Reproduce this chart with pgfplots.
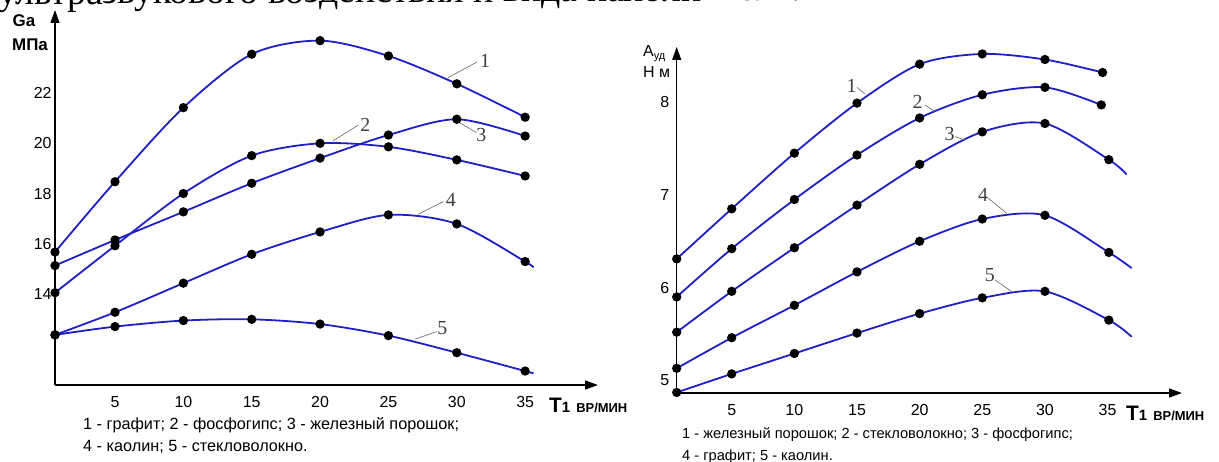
\documentclass[border=0pt]{standalone}
\usepackage{fontspec}
\setmainfont{Liberation Sans}
\newfontfamily\serif{Liberation Serif}
\usepackage{pgfplots}
\pgfplotsset{compat=1.18}
\usetikzlibrary{arrows.meta}
\definecolor{curveblue}{HTML}{1F1FC4}

\pgfplotsset{
  panel/.style={
    scale only axis, clip=false, anchor=south west,
    axis x line=bottom, axis y line=left,
    axis line style={line width=1.4bp,-{Triangle[length=13bp,width=9bp]}},
    major tick length=0pt,
    xtick={5,10,15,20,25,30,35},
    tick label style={font=\fontsize{16}{19}\selectfont},
    xticklabel style={yshift=-8bp},
    /pgf/number format/assume math mode=true},
  curve/.style={curveblue,line width=1.8bp,smooth,mark=*,mark size=3.7bp,
    mark options={black,fill=black}},
}
\tikzset{
  leader/.style={black!55,line width=0.7bp},
  num/.style={black!75,inner sep=0pt,font=\serif\fontsize{20}{22}\selectfont},
}

\begin{document}
\begin{tikzpicture}
\useasboundingbox (0,0) rectangle (1219bp,462bp);

% text line of the page, cut by the top edge
\node[anchor=base west,inner sep=0pt,rotate=0.29,
  font=\serif\fontsize{38}{44}\selectfont]
  at (-2bp,457.5bp) {ультразвукового воздействия и вида наполнителя.};

% left panel: Ga, MPa
\begin{axis}[panel, at={(55bp,77bp)}, width=543bp, height=375bp,
  xmin=0.61, xmax=40.33, ymin=10.374, ymax=25.31, ytick={14,16,18,20,22}]
  % 1 - graphite
  \addplot[curve] coordinates {(0.61,15.67) (5,18.47) (10,21.42) (15,23.55)
    (20,24.09) (25,23.48) (30,22.37) (35,21.04)};
  % 2 - phosphogypsum
  \addplot[curve] coordinates {(0.61,14.05) (5,15.92) (10,18.00) (15,19.51)
    (20,20.00) (25,19.86) (30,19.34) (35,18.70)};
  % 3 - iron powder
  \addplot[curve] coordinates {(0.61,15.13) (5,16.15) (10,17.27) (15,18.41)
    (20,19.41) (25,20.33) (30,20.96) (35,20.29)};
  % 4 - kaolin
  \addplot[curve,mark indices={1,2,3,4,5,6,7,8}] coordinates {(0.61,12.37)
    (5,13.27) (10,14.43) (15,15.58) (20,16.47) (25,17.15) (30,16.79)
    (35,15.29) (35.58,15.05)};
  % 5 - glass fibre
  \addplot[curve,mark indices={1,2,3,4,5,6,7,8}] coordinates {(0.61,12.37)
    (5,12.70) (10,12.94) (15,12.99) (20,12.80) (25,12.34) (30,11.66)
    (35,10.93) (35.58,10.84)};

  \draw[leader] (axis cs:29.36,22.61) -- (axis cs:31.48,23.24);
  \node[num] at (axis cs:32.07,23.30) {1};
  \draw[leader] (axis cs:20.95,20.10) -- (axis cs:22.78,20.72);
  \node[num] at (axis cs:23.31,20.75) {2};
  \draw[leader] (axis cs:30.09,20.85) -- (axis cs:31.45,20.43);
  \node[num] at (axis cs:31.80,20.33) {3};
  \draw[leader] (axis cs:27.19,17.18) -- (axis cs:29.02,17.68);
  \node[num] at (axis cs:29.56,17.75) {4};
  \draw[leader] (axis cs:26.95,12.20) -- (axis cs:28.53,12.50);
  \node[num] at (axis cs:28.94,12.63) {5};
\end{axis}

% right panel: specific work, N m
\begin{axis}[panel, at={(676.7bp,69bp)}, width=505.3bp, height=346bp,
  xmin=0.61, xmax=40.94, ymin=4.864, ymax=8.595, ytick={5,6,7,8},
  yticklabel style={xshift=-4bp}]
  % 1 - iron powder
  \addplot[curve] coordinates {(0.61,6.31) (5,6.85) (10,7.45) (15,7.99)
    (20,8.41) (25,8.52) (30,8.46) (34.6,8.32)};
  % 2 - glass fibre
  \addplot[curve] coordinates {(0.61,5.90) (5,6.42) (10,6.95) (15,7.43)
    (20,7.83) (25,8.08) (30,8.16) (34.5,7.97)};
  % 3 - phosphogypsum
  \addplot[curve,mark indices={1,2,3,4,5,6,7,8}] coordinates {(0.61,5.52)
    (5,5.96) (10,6.43) (15,6.89) (20,7.33) (25,7.68) (30,7.77)
    (35.1,7.38) (36.52,7.22)};
  % 4 - graphite
  \addplot[curve,mark indices={1,2,3,4,5,6,7,8}] coordinates {(0.61,5.13)
    (5,5.46) (10,5.81) (15,6.17) (20,6.50) (25,6.74) (30,6.78)
    (35.1,6.38) (36.92,6.21)};
  % 5 - kaolin
  \addplot[curve,mark indices={1,2,3,4,5,6,7,8}] coordinates {(0.61,4.87)
    (5,5.07) (10,5.29) (15,5.51) (20,5.72) (25,5.89) (30,5.96)
    (35.1,5.65) (36.92,5.47)};

  \draw[leader] (axis cs:15.64,8.088) -- (axis cs:15.00,8.16);
  \node[num] at (axis cs:14.57,8.18) {1};
  \draw[leader] (axis cs:21.23,7.897) -- (axis cs:20.43,7.97);
  \node[num] at (axis cs:19.83,8.005) {2};
  \draw[leader] (axis cs:23.62,7.592) -- (axis cs:22.82,7.628);
  \node[num] at (axis cs:22.40,7.66) {3};
  \draw[leader] (axis cs:26.95,6.802) -- (axis cs:25.48,6.964);
  \node[num] at (axis cs:25.06,7.00) {4};
  \draw[leader] (axis cs:27.35,5.957) -- (axis cs:26.01,6.083);
  \node[num] at (axis cs:25.61,6.137) {5};
\end{axis}

% axis titles
\node[font=\bfseries\fontsize{17}{20}\selectfont] at (24bp,441bp) {Ga};
\node[font=\bfseries\fontsize{17}{20}\selectfont] at (30bp,417bp) {МПа};
\node[anchor=base west,inner sep=0pt,font=\fontsize{16}{19}\selectfont]
  at (643bp,405bp) {A\raisebox{-3bp}{\fontsize{11}{12}\selectfont уд}};
\node[anchor=base west,inner sep=0pt,font=\fontsize{16}{19}\selectfont]
  at (643bp,384bp) {Н м};

\node[anchor=base west,inner sep=0pt,font=\bfseries] at (549bp,49bp)
  {{\fontsize{21}{24}\selectfont T}{\fontsize{15}{18}\selectfont 1}\hspace{6bp}{\fontsize{13}{16}\selectfont ВР/МИН}};
\node[anchor=base west,inner sep=0pt,font=\bfseries] at (1126bp,41bp)
  {{\fontsize{21}{24}\selectfont T}{\fontsize{15}{18}\selectfont 1}\hspace{6bp}{\fontsize{13}{16}\selectfont ВР/МИН}};

% captions
\node[anchor=base west,inner sep=0pt,font=\fontsize{16.3}{19}\selectfont]
  at (83bp,33bp) {1 - графит; 2 - фосфогипс; 3 - железный порошок;};
\node[anchor=base west,inner sep=0pt,font=\fontsize{16.3}{19}\selectfont]
  at (83bp,11bp) {4 - каолин; 5 - стекловолокно.};
\node[anchor=base west,inner sep=0pt,font=\fontsize{14.7}{17}\selectfont]
  at (682bp,24bp) {1 - железный порошок; 2 - стекловолокно; 3 - фосфогипс;};
\node[anchor=base west,inner sep=0pt,font=\fontsize{14.7}{17}\selectfont]
  at (682bp,2bp) {4 - графит; 5 - каолин.};
\end{tikzpicture}
\end{document}
